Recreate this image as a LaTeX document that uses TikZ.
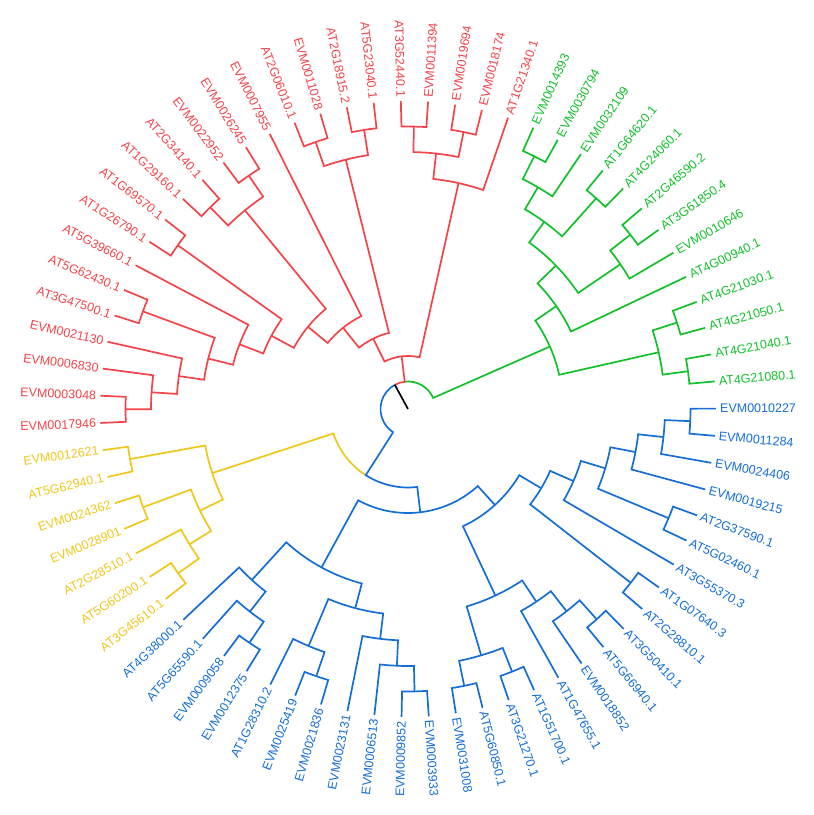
\documentclass[tikz,border=0pt]{standalone}
\usepackage{fontspec}
\setmainfont{Liberation Sans}
\definecolor{cladered}{RGB}{243,68,74}
\definecolor{cladegreen}{RGB}{18,192,42}
\definecolor{cladeblue}{RGB}{20,110,214}
\definecolor{cladeyellow}{RGB}{240,198,26}
\tikzset{>=stealth}
\tikzset{
  redbranch/.style={draw=cladered, line width=1.7pt},
  greenbranch/.style={draw=cladegreen, line width=1.7pt},
  bluebranch/.style={draw=cladeblue, line width=1.7pt},
  yellowbranch/.style={draw=cladeyellow, line width=1.7pt},
  tiplabel/.style={font=\fontsize{12.5}{15}\selectfont, inner sep=1pt}
}
% #1 style, #2 level of the node, #3/#4 angle and level of child one, #5/#6 of child two
\newcommand{\clade}[6]{%
  \pgfmathsetmacro{\rNode}{25.5*#2+2}%
  \pgfmathsetmacro{\rOne}{25.5*#4+2}%
  \pgfmathsetmacro{\rTwo}{25.5*#6+2}%
  \draw[#1] (#3:\rOne pt) -- (#3:\rNode pt) arc[start angle=#3, end angle=#5, radius=\rNode pt] -- (#5:\rTwo pt);}

\begin{document}
\begin{tikzpicture}[x=1pt, y=1pt]
\useasboundingbox (-408,-406) rectangle (406,409);

\clade{redbranch}{11}{182.60}{12}{177.53}{12}
\clade{redbranch}{10}{172.46}{12}{180.07}{11}
\clade{redbranch}{9}{167.39}{12}{176.27}{10}
\clade{redbranch}{11}{162.32}{12}{157.25}{12}
\clade{redbranch}{8}{171.83}{9}{159.79}{11}
\clade{redbranch}{7}{165.81}{8}{152.18}{12}
\clade{redbranch}{11}{147.11}{12}{142.04}{12}
\clade{redbranch}{6}{159.00}{7}{144.58}{11}
\clade{redbranch}{11}{136.97}{12}{131.90}{12}
\clade{redbranch}{11}{126.83}{12}{121.76}{12}
\clade{redbranch}{10}{134.44}{11}{124.30}{11}
\clade{redbranch}{5}{151.79}{6}{129.37}{10}
\clade{redbranch}{4}{140.58}{5}{116.68}{12}
\clade{redbranch}{11}{111.61}{12}{106.54}{12}
\clade{redbranch}{11}{101.47}{12}{96.40}{12}
\clade{redbranch}{10}{109.08}{11}{98.94}{11}
\clade{redbranch}{3}{128.63}{4}{104.01}{10}
\clade{redbranch}{11}{91.33}{12}{86.26}{12}
\clade{redbranch}{11}{81.19}{12}{76.12}{12}
\clade{redbranch}{10}{88.80}{11}{78.66}{11}
\clade{redbranch}{9}{83.73}{10}{71.05}{12}
\clade{redbranch}{2}{116.32}{3}{77.39}{9}

\clade{greenbranch}{11}{65.98}{12}{60.91}{12}
\clade{greenbranch}{10}{63.45}{11}{55.84}{12}
\clade{greenbranch}{11}{50.77}{12}{45.70}{12}
\clade{greenbranch}{9}{59.64}{10}{48.24}{11}
\clade{greenbranch}{11}{40.63}{12}{35.56}{12}
\clade{greenbranch}{10}{38.10}{11}{30.49}{12}
\clade{greenbranch}{8}{53.94}{9}{34.29}{10}
\clade{greenbranch}{7}{44.12}{8}{25.42}{12}
\clade{greenbranch}{11}{20.35}{12}{15.28}{12}
\clade{greenbranch}{11}{10.21}{12}{5.14}{12}
\clade{greenbranch}{10}{17.81}{11}{7.68}{11}
\clade{greenbranch}{6}{34.77}{7}{12.75}{10}

\clade{bluebranch}{11}{0.07}{12}{-5.00}{12}
\clade{bluebranch}{10}{-2.47}{11}{-10.07}{12}
\clade{bluebranch}{9}{-6.27}{10}{-15.14}{12}
\clade{bluebranch}{11}{-20.21}{12}{-25.28}{12}
\clade{bluebranch}{8}{-10.71}{9}{-22.75}{11}
\clade{bluebranch}{7}{-16.73}{8}{-30.35}{12}
\clade{bluebranch}{11}{-35.42}{12}{-40.49}{12}
\clade{bluebranch}{6}{-23.54}{7}{-37.96}{11}
\clade{bluebranch}{11}{-45.56}{12}{-50.63}{12}
\clade{bluebranch}{10}{-48.10}{11}{-55.70}{12}
\clade{bluebranch}{9}{-51.90}{10}{-60.77}{12}
\clade{bluebranch}{11}{-65.84}{12}{-70.91}{12}
\clade{bluebranch}{11}{-75.99}{12}{-81.06}{12}
\clade{bluebranch}{10}{-68.38}{11}{-78.53}{11}
\clade{bluebranch}{8}{-56.34}{9}{-73.45}{10}
\clade{bluebranch}{5}{-30.75}{6}{-64.90}{8}
\clade{bluebranch}{11}{-86.13}{12}{-91.20}{12}
\clade{bluebranch}{10}{-88.67}{11}{-96.27}{12}
\clade{bluebranch}{9}{-92.47}{10}{-101.34}{12}
\clade{bluebranch}{11}{-106.41}{12}{-111.48}{12}
\clade{bluebranch}{10}{-108.95}{11}{-116.55}{12}
\clade{bluebranch}{8}{-96.91}{9}{-112.75}{10}
\clade{bluebranch}{11}{-121.62}{12}{-126.69}{12}
\clade{bluebranch}{10}{-124.16}{11}{-131.76}{12}
\clade{bluebranch}{9}{-127.96}{10}{-136.83}{12}
\clade{bluebranch}{7}{-104.83}{8}{-132.40}{9}
\clade{bluebranch}{4}{-47.83}{5}{-118.62}{7}

\clade{yellowbranch}{11}{-167.25}{12}{-172.32}{12}
\clade{yellowbranch}{11}{-157.11}{12}{-162.18}{12}
\clade{yellowbranch}{11}{-141.90}{12}{-146.97}{12}
\clade{yellowbranch}{10}{-144.44}{11}{-152.04}{12}
\clade{yellowbranch}{9}{-159.65}{11}{-148.24}{10}
\clade{yellowbranch}{8}{-169.79}{11}{-153.95}{9}

\clade{yellowbranch}{3}{-161.87}{8}{-122.55}{3}
\clade{bluebranch}{3}{-122.55}{1}{-83.23}{4}
\clade{greenbranch}{1}{23.76}{6}{96.86}{1}
\clade{redbranch}{1}{118.60}{1}{96.86}{2}
\clade{bluebranch}{1}{118.60}{1}{237.45}{1}
\draw[line width=1.7pt] (0,0) -- (118.6:27.5pt);

\foreach \i/\name/\c in {1/EVM0017946/cladered, 2/EVM0003048/cladered, 3/EVM0006830/cladered,
  4/EVM0021130/cladered, 5/AT3G47500.1/cladered, 6/AT5G62430.1/cladered, 7/AT5G39660.1/cladered,
  8/AT1G26790.1/cladered, 9/AT1G69570.1/cladered, 10/AT1G29160.1/cladered, 11/AT2G34140.1/cladered,
  12/EVM0022952/cladered, 13/EVM0026245/cladered, 14/EVM0007955/cladered, 15/AT2G06010.1/cladered,
  16/EVM0011028/cladered, 17/AT2G18915.2/cladered, 18/AT5G23040.1/cladered, 19/AT3G52440.1/cladered,
  20/EVM0011394/cladered, 21/EVM0019694/cladered, 22/EVM0018174/cladered, 23/AT1G21340.1/cladered,
  24/EVM0014393/cladegreen, 25/EVM0030794/cladegreen, 26/EVM0032109/cladegreen, 27/AT1G64620.1/cladegreen,
  28/AT4G24060.1/cladegreen, 29/AT2G46590.2/cladegreen, 30/AT3G61850.4/cladegreen, 31/EVM0010646/cladegreen,
  32/AT4G00940.1/cladegreen, 33/AT4G21030.1/cladegreen, 34/AT4G21050.1/cladegreen, 35/AT4G21040.1/cladegreen,
  36/AT4G21080.1/cladegreen,
  37/EVM0010227/cladeblue, 38/EVM0011284/cladeblue, 39/EVM0024406/cladeblue, 40/EVM0019215/cladeblue,
  41/AT2G37590.1/cladeblue, 42/AT5G02460.1/cladeblue, 43/AT3G55370.3/cladeblue, 44/AT1G07640.3/cladeblue,
  45/AT2G28810.1/cladeblue, 46/AT3G50410.1/cladeblue, 47/AT5G66940.1/cladeblue, 48/EVM0018852/cladeblue,
  49/AT1G47655.1/cladeblue, 50/AT1G51700.1/cladeblue, 51/AT3G21270.1/cladeblue, 52/AT5G60850.1/cladeblue,
  53/EVM0031008/cladeblue, 54/EVM0003933/cladeblue, 55/EVM0009852/cladeblue, 56/EVM0006513/cladeblue,
  57/EVM0023131/cladeblue, 58/EVM0021836/cladeblue, 59/EVM0025419/cladeblue, 60/AT1G28310.2/cladeblue,
  61/EVM0012375/cladeblue, 62/EVM0009058/cladeblue, 63/AT5G65590.1/cladeblue, 64/AT4G38000.1/cladeblue,
  65/AT3G45610.1/cladeyellow, 66/AT5G60200.1/cladeyellow, 67/AT2G28510.1/cladeyellow,
  68/EVM0028901/cladeyellow, 69/EVM0024362/cladeyellow, 70/AT5G62940.1/cladeyellow,
  71/EVM0012621/cladeyellow}{
  \pgfmathsetmacro{\a}{182.6-(\i-1)*5.070423}
  \pgfmathsetmacro{\cs}{cos(\a)}
  \ifdim\cs pt<0pt
    \node[tiplabel, text=\c, anchor=east, rotate=\a+180] (tip\i) at (\a:311pt) {\name};
  \else
    \node[tiplabel, text=\c, anchor=west, rotate=\a] (tip\i) at (\a:311pt) {\name};
  \fi
}
\end{tikzpicture}
\end{document}
